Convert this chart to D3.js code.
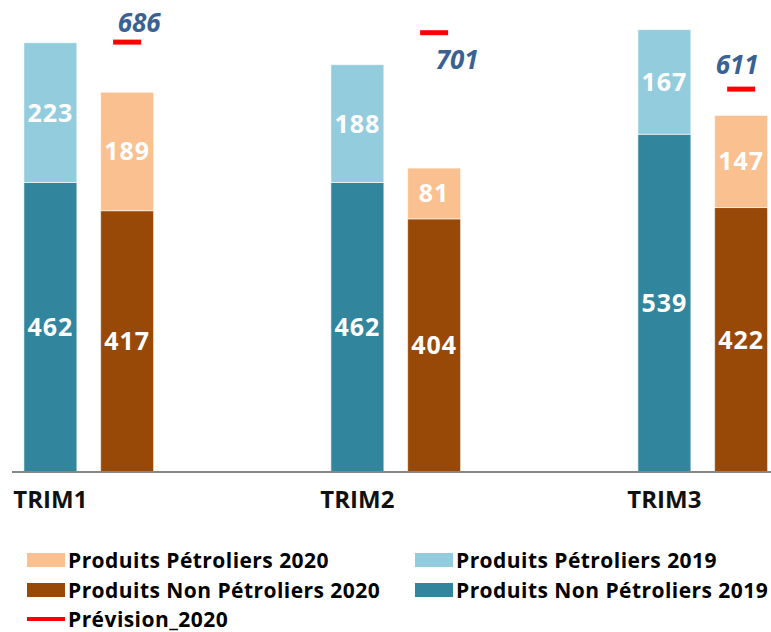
<!DOCTYPE html>
<html>
<head>
<meta charset="utf-8">
<script src="https://cdn.jsdelivr.net/npm/d3@7"></script>
<style>
  body { margin: 0; background: #fff; }
  svg { display: block; font-family: "Open Sans", Lato, sans-serif; }
</style>
</head>
<body>
<div id="chart"></div>
<script>
// data
var categories = ["TRIM1", "TRIM2", "TRIM3"];
var nonPetro2019 = [462, 462, 539];
var petro2019 = [223, 188, 167];
var nonPetro2020 = [417, 404, 422];
var petro2020 = [189, 81, 147];
var prevision2020 = [686, 701, 611];

// where excel put the forecast labels (dx, dy from the marker)
var prevLabelOffset = [[12, -10], [23, 36], [-4, -15]];

var width = 771, height = 632;
var baseline = 472;

var colors = {
  p2019: "#93cddd",
  np2019: "#31859c",
  p2020: "#fac090",
  np2020: "#984807",
  prev: "#ff0000"
};

var svg = d3.select("#chart")
  .append("svg")
  .attr("width", width)
  .attr("height", height);

// each category holds 4 slots: 2019, 2020 and two empty ones
var x0 = d3.scaleBand().domain(categories).range([12, 12 + 307 * 3]);
var x1 = d3.scaleBand().domain(["2019", "2020", "s3", "s4"])
  .range([0, x0.bandwidth()])
  .paddingInner(0.31).paddingOuter(0.155);

var y = d3.scaleLinear().domain([0, 750]).range([baseline, 2]);

//build stacked segments
var segs = [];
categories.forEach(function(c, i) {
  segs.push({cat: c, yr: "2019", lo: 0, hi: nonPetro2019[i], v: nonPetro2019[i], col: colors.np2019});
  segs.push({cat: c, yr: "2019", lo: nonPetro2019[i], hi: nonPetro2019[i] + petro2019[i], v: petro2019[i], col: colors.p2019});
  segs.push({cat: c, yr: "2020", lo: 0, hi: nonPetro2020[i], v: nonPetro2020[i], col: colors.np2020});
  segs.push({cat: c, yr: "2020", lo: nonPetro2020[i], hi: nonPetro2020[i] + petro2020[i], v: petro2020[i], col: colors.p2020});
});

svg.append("g").selectAll("rect")
  .data(segs)
  .enter().append("rect")
  .attr("x", function(d) { return x0(d.cat) + x1(d.yr); })
  .attr("y", function(d) { return y(d.hi); })
  .attr("width", x1.bandwidth())
  .attr("height", function(d) { return y(d.lo) - y(d.hi); })
  .attr("fill", function(d) { return d.col; })
  .attr("stroke", "#ffffff")
  .attr("stroke-opacity", 0.6)
  .attr("stroke-width", 1);

// values inside the bars
svg.append("g").selectAll("text")
  .data(segs)
  .enter().append("text")
  .attr("x", function(d) { return x0(d.cat) + x1(d.yr) + x1.bandwidth() / 2; })
  .attr("y", function(d) { return (y(d.lo) + y(d.hi)) / 2; })
  .attr("dy", "0.36em")
  .attr("text-anchor", "middle")
  .attr("fill", "#ffffff")
  .attr("font-weight", "bold")
  .attr("font-size", "25px")
  .attr("letter-spacing", "1px")
  .text(function(d) { return d.v; });

// x axis line
svg.append("line")
  .attr("x1", 12).attr("x2", width)
  .attr("y1", baseline).attr("y2", baseline)
  .attr("stroke", "#868686")
  .attr("stroke-width", 2);

// category labels under the 2019 bar
svg.append("g").selectAll("text")
  .data(categories)
  .enter().append("text")
  .attr("x", function(d) { return x0(d) + x1("2019") + x1.bandwidth() / 2; })
  .attr("y", 508)
  .attr("text-anchor", "middle")
  .attr("font-weight", "bold")
  .attr("font-size", "24px")
  .attr("fill", "#111")
  .text(function(d) { return d; });

// forecast markers
var prev = categories.map(function(c, i) { return {cat: c, v: prevision2020[i], off: prevLabelOffset[i]}; });
var mx = function(d) { return x0(d.cat) + x1("2020") + x1.bandwidth() / 2; };

svg.append("g").selectAll("line")
  .data(prev)
  .enter().append("line")
  .attr("x1", function(d) { return mx(d) - 14; })
  .attr("x2", function(d) { return mx(d) + 14; })
  .attr("y1", function(d) { return y(d.v); })
  .attr("y2", function(d) { return y(d.v); })
  .attr("stroke", colors.prev)
  .attr("stroke-width", 5);

svg.append("g").selectAll("text")
  .data(prev)
  .enter().append("text")
  .attr("x", function(d) { return mx(d) + d.off[0]; })
  .attr("y", function(d) { return y(d.v) + d.off[1]; })
  .attr("text-anchor", "middle")
  .attr("font-weight", "bold")
  .attr("font-style", "italic")
  .attr("font-size", "26px")
  .attr("fill", "#3a6192")
  .text(function(d) { return d.v; });

// legend
var legend = [
  {name: "Produits Pétroliers 2020", col: colors.p2020, x: 27, y: 568, type: "rect"},
  {name: "Produits Pétroliers 2019", col: colors.p2019, x: 415, y: 568, type: "rect"},
  {name: "Produits Non Pétroliers 2020", col: colors.np2020, x: 27, y: 598, type: "rect"},
  {name: "Produits Non Pétroliers 2019", col: colors.np2019, x: 415, y: 598, type: "rect"},
  {name: "Prévision_2020", col: colors.prev, x: 27, y: 627, type: "line"}
];

var lg = svg.append("g").selectAll("g")
  .data(legend)
  .enter().append("g")
  .attr("transform", function(d) { return "translate(" + d.x + "," + d.y + ")"; });

lg.filter(function(d) { return d.type == "rect"; })
  .append("rect")
  .attr("x", 0).attr("y", -15)
  .attr("width", 38).attr("height", 14)
  .attr("fill", function(d) { return d.col; });

lg.filter(function(d) { return d.type == "line"; })
  .append("line")
  .attr("x1", 0).attr("x2", 38)
  .attr("y1", -8).attr("y2", -8)
  .attr("stroke", function(d) { return d.col; })
  .attr("stroke-width", 4);

lg.append("text")
  .attr("x", 41)
  .attr("y", 0)
  .attr("font-weight", "bold")
  .attr("font-size", "21px")
  .attr("letter-spacing", "0.45px")
  .attr("fill", "#000")
  .text(function(d) { return d.name; });
</script>
</body>
</html>
